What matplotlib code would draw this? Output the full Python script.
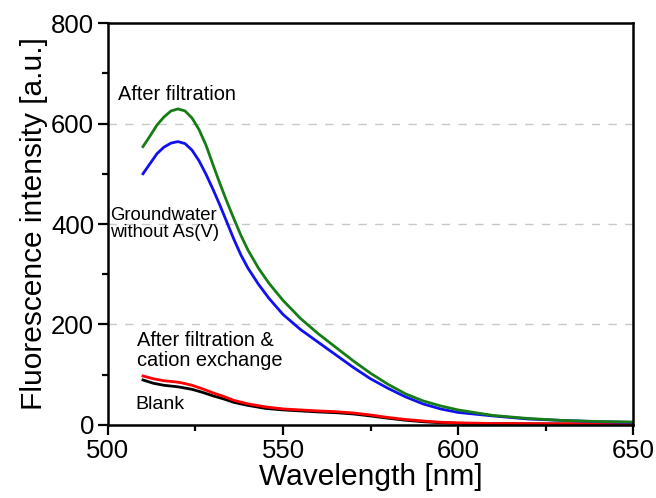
import matplotlib as mpl
mpl.use("Agg")
import matplotlib.pyplot as plt
from matplotlib.ticker import MultipleLocator

plt.rcParams['font.family'] = ['Liberation Sans', 'DejaVu Sans']

# curves (wavelength nm, intensity a.u.)
wl_green = [510, 512, 514, 516, 518, 520, 522, 524, 526, 528, 530, 532, 534, 536, 538,
            540, 543, 546, 550, 555, 560, 565, 570, 575, 580, 585, 590, 595, 600,
            610, 620, 630, 640, 650]
after_filtration = [554, 575, 597, 613, 625, 629, 625, 611, 588, 557, 518, 480, 444, 410, 377,
                    348, 312, 282, 248, 212, 182, 155, 128, 103, 81, 62, 48, 38, 30,
                    19, 13, 9, 7, 6]

wl_blue = [510, 512, 514, 516, 518, 520, 522, 524, 526, 528, 530, 532, 534, 536, 538,
           540, 543, 546, 550, 555, 560, 565, 570, 575, 580, 585, 590, 595, 600,
           610, 620, 630, 640, 650]
groundwater = [500, 520, 540, 553, 561, 564, 560, 547, 526, 499, 469, 437, 403, 369, 338,
               312, 280, 252, 220, 190, 165, 140, 115, 92, 73, 56, 42, 32, 25,
               18, 12, 9, 6.5, 5]

wl_red = [510, 513, 516, 519, 521, 524, 527, 530, 533, 536, 540, 545, 550, 555, 560,
          565, 570, 575, 580, 585, 590, 595, 600, 610, 620, 650]
cation_exchange = [97.5, 92, 88, 86, 84, 79, 72, 64, 57, 49, 42, 36, 32, 30, 28,
                   26.5, 24, 20, 15, 11, 8, 5.5, 4.2, 3, 2.6, 2.5]

wl_black = [510, 513, 516, 520, 524, 527, 530, 533, 536, 540, 545, 550, 555, 560,
            565, 570, 575, 580, 585, 590, 595, 600, 610, 650]
blank = [89.6, 83, 79, 76, 71, 65, 58, 52, 45, 39, 33, 30, 28, 26,
         24.5, 22, 18, 13.5, 9.5, 6.5, 4.5, 3.5, 2.5, 1.5]

fig = plt.figure(figsize=(6.56, 4.98), dpi=100)
ax = fig.add_axes([0.1646, 0.1466, 0.8004, 0.8072])

for y in [200, 400, 600]:
    ax.axhline(y, color='#c8c8c8', lw=1.0, dashes=(6, 6), zorder=0)

ax.plot(wl_black, blank, color='black', lw=2)
ax.plot(wl_red, cation_exchange, color='#ff0000', lw=2)
ax.plot(wl_blue, groundwater, color='#1010f0', lw=2)
ax.plot(wl_green, after_filtration, color='#167d16', lw=2)

ax.set_xlim(500, 650)
ax.set_ylim(0, 800)
ax.xaxis.set_major_locator(MultipleLocator(50))
ax.xaxis.set_minor_locator(MultipleLocator(25))
ax.yaxis.set_major_locator(MultipleLocator(200))
ax.yaxis.set_minor_locator(MultipleLocator(100))
ax.tick_params(which='major', direction='out', length=7, width=1.6,
               labelsize=18.5, pad=3, top=False, right=False)
ax.tick_params(which='minor', direction='out', length=4, width=1.6,
               top=False, right=False)
for s in ax.spines.values():
    s.set_linewidth(1.8)

ax.set_xlabel('Wavelength [nm]', fontsize=21.5, labelpad=0)
ax.set_ylabel('Fluorescence intensity [a.u.]', fontsize=21.5, labelpad=2)

ax.text(502.9, 657, 'After filtration', fontsize=14.4, va='center', ha='left')
ax.text(500.6, 400, 'Groundwater\nwithout As(V)', fontsize=13.3, va='center',
        ha='left', linespacing=0.95)
ax.text(508.3, 148, 'After filtration &\ncation exchange', fontsize=14.4,
        va='center', ha='left', linespacing=1.1)
ax.text(507.7, 40, 'Blank', fontsize=14.0, va='center', ha='left')

fig.savefig('out.png', dpi=100)
